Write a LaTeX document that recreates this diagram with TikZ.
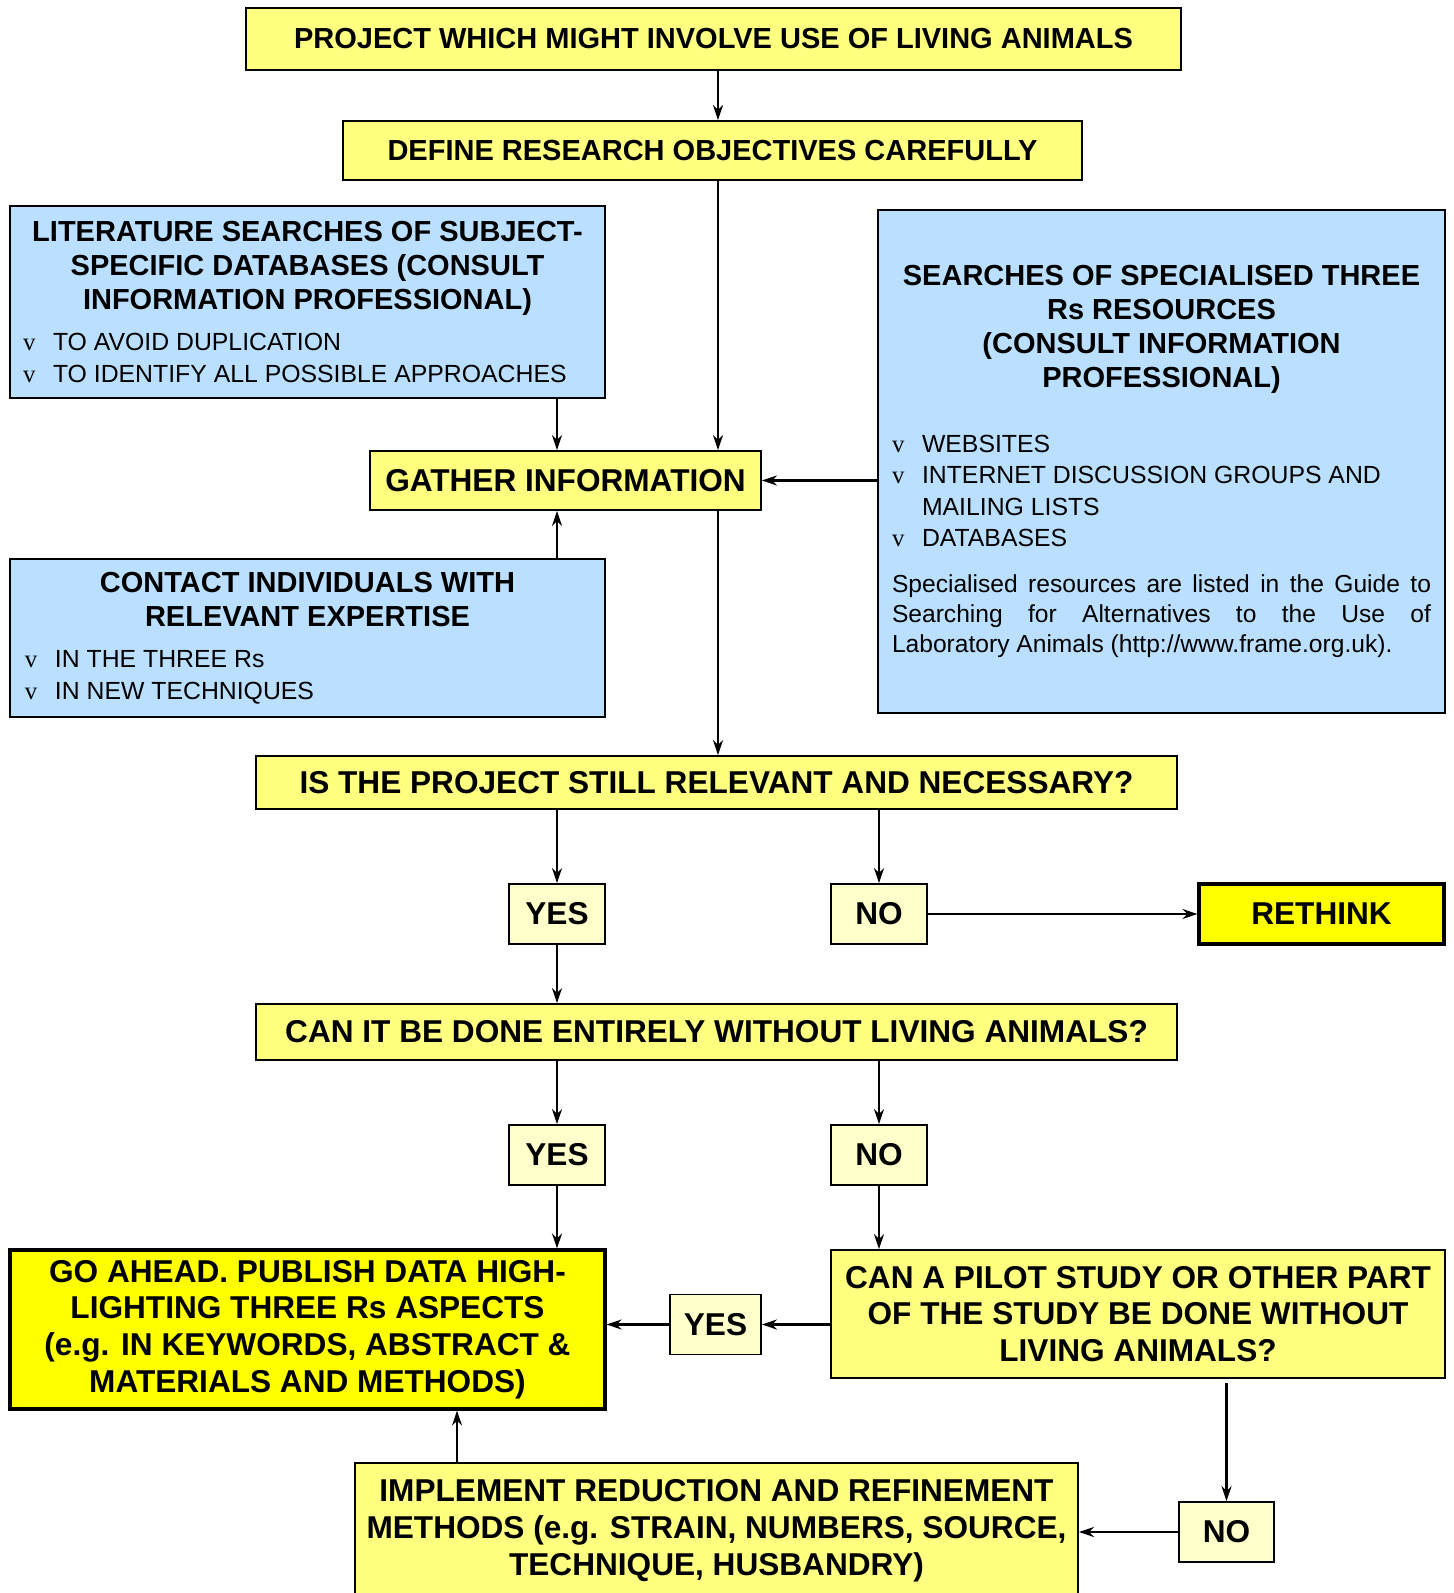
\documentclass[tikz,border=0pt]{standalone}
\usepackage{fontspec}
\setmainfont{Liberation Sans}
\newfontfamily\puce{Liberation Serif}
\usetikzlibrary{arrows.meta}
\definecolor{jaune}{RGB}{255,255,128}
\definecolor{jaunepale}{RGB}{255,255,204}
\definecolor{jaunevif}{RGB}{255,255,0}
\definecolor{bleu}{RGB}{187,224,255}
\newcommand{\titre}{\bfseries\fontsize{14.5}{17}\selectfont}
\newcommand{\texte}{\fontsize{12.4}{15.75}\selectfont}
\newcommand{\elt}[1]{\par\hangindent=15pt\hangafter=1\noindent\makebox[15pt][l]{\puce v}#1}

\begin{document}
\begin{tikzpicture}[x=0.5pt,y=-0.5pt]
\tikzset{boite/.style={draw, line width=0.9pt, fill=jaune, inner sep=0pt, align=center, font=\bfseries\fontsize{15.8}{18.4}\selectfont},
petite/.style={boite, fill=jaunepale, minimum width=48pt, minimum height=30pt},
forte/.style={boite, fill=jaunevif, line width=1.6pt},
bleue/.style={draw, line width=0.9pt, fill=bleu, inner xsep=6.5pt, inner ysep=0pt, text width=284.5pt, align=justify},
fleche/.style={-{Stealth[length=7.5pt,width=5pt]}, line width=1.15pt}}
\clip (0,0) rectangle (1453,1593);
\node[boite, font=\titre, minimum width=467.5pt, minimum height=31pt] (P) at (713.5,39) {PROJECT WHICH MIGHT INVOLVE USE OF LIVING ANIMALS};
\node[boite, font=\titre, minimum width=369.5pt, minimum height=29.5pt] (D) at (712.5,150.5) {DEFINE RESEARCH OBJECTIVES CAREFULLY};
\node[bleue, minimum height=96pt] (L) at (307.5,302) {{\centering\titre LITERATURE SEARCHES OF SUBJECT-\\SPECIFIC DATABASES (CONSULT\\INFORMATION PROFESSIONAL)\par}\vspace{5pt}\texte\elt{TO AVOID DUPLICATION}\elt{TO IDENTIFY ALL POSSIBLE APPROACHES}\par};
\node[bleue, inner xsep=7pt, text width=269.5pt, minimum height=251.5pt] (S) at (1161.5,461.5) {{\centering\titre SEARCHES OF SPECIALISED THREE\\Rs RESOURCES\\(CONSULT INFORMATION\\PROFESSIONAL)\par}\vspace{16.75pt}\texte\elt{WEBSITES}\elt{INTERNET DISCUSSION GROUPS AND\hfil\break MAILING LISTS}\elt{DATABASES}\par\vspace{8pt}\fontsize{12.3}{15}\selectfont Specialised resources are listed in the Guide to\linebreak Searching for Alternatives to the Use of\linebreak Laboratory Animals (http://www.frame.org.uk).\par};
\node[boite, minimum width=195.5pt, minimum height=29.5pt] (G) at (565.5,480.5) {GATHER INFORMATION};
\node[bleue, inner xsep=7.5pt, text width=282.5pt, minimum height=79pt] (C) at (307.5,638) {{\centering\titre CONTACT INDIVIDUALS WITH\\RELEVANT EXPERTISE\par}\vspace{5pt}\texte\elt{IN THE THREE Rs}\elt{IN NEW TECHNIQUES}\par};
\node[boite, minimum width=460.5pt, minimum height=26.5pt] (R) at (716.5,782.5) {IS THE PROJECT STILL RELEVANT AND NECESSARY?};
\node[petite] (Y1) at (557,914) {YES};
\node[petite] (N1) at (879,914) {NO};
\node[forte, minimum width=122.5pt, minimum height=30pt] (RT) at (1321.5,914) {RETHINK};
\node[boite, minimum width=460.5pt, minimum height=28pt] (W) at (716.5,1032) {CAN IT BE DONE ENTIRELY WITHOUT LIVING ANIMALS?};
\node[petite] (Y2) at (557,1155) {YES};
\node[petite] (N2) at (879,1155) {NO};
\node[forte, minimum width=297.5pt, minimum height=79.5pt] (GA) at (307.5,1329.5) {GO AHEAD. PUBLISH DATA HIGH-\\LIGHTING THREE Rs ASPECTS\\(e.g. IN KEYWORDS, ABSTRACT \&\\MATERIALS AND METHODS)};
\node[petite, minimum width=45.5pt] (Y3) at (715.5,1324.5) {YES};
\node[boite, minimum width=307pt, minimum height=64pt] (PS) at (1138,1314) {CAN A PILOT STUDY OR OTHER PART\\OF THE STUDY BE DONE WITHOUT\\LIVING ANIMALS?};
\node[boite, minimum width=361.5pt, minimum height=67.5pt] (I) at (716.5,1530.5) {IMPLEMENT REDUCTION AND REFINEMENT\\METHODS (e.g. STRAIN, NUMBERS, SOURCE,\\TECHNIQUE, HUSBANDRY)};
\node[petite, minimum width=47.5pt] (N3) at (1226.5,1532) {NO};
\coordinate (c1) at (557,0);
\coordinate (c2) at (718,0);
\coordinate (c3) at (457,0);
\draw[fleche] (P.south -| c2) -- (D.north -| c2);
\draw[fleche] (D.south -| c2) -- (G.north -| c2);
\draw[fleche] (L.south -| c1) -- (G.north -| c1);
\draw[fleche] (C.north -| c1) -- (G.south -| c1);
\draw[fleche] (S.west |- G) -- (G.east);
\draw[fleche] (G.south -| c2) -- (R.north -| c2);
\draw[fleche] (R.south -| Y1) -- (Y1.north);
\draw[fleche] (R.south -| N1) -- (N1.north);
\draw[fleche] (N1.east) -- (RT.west);
\draw[fleche] (Y1.south) -- (W.north -| Y1);
\draw[fleche] (W.south -| Y2) -- (Y2.north);
\draw[fleche] (W.south -| N2) -- (N2.north);
\draw[fleche] (Y2.south) -- (GA.north -| Y2);
\draw[fleche] (N2.south) -- (PS.north -| N2);
\draw[fleche] (PS.west |- Y3) -- (Y3.east);
\draw[fleche] (Y3.west) -- (GA.east |- Y3);
\draw[fleche, shorten <=2pt] (PS.south -| N3) -- (N3.north);
\draw[fleche] (N3.west) -- (I.east |- N3);
\draw[fleche] (I.north -| c3) -- (GA.south -| c3);
\end{tikzpicture}
\end{document}
